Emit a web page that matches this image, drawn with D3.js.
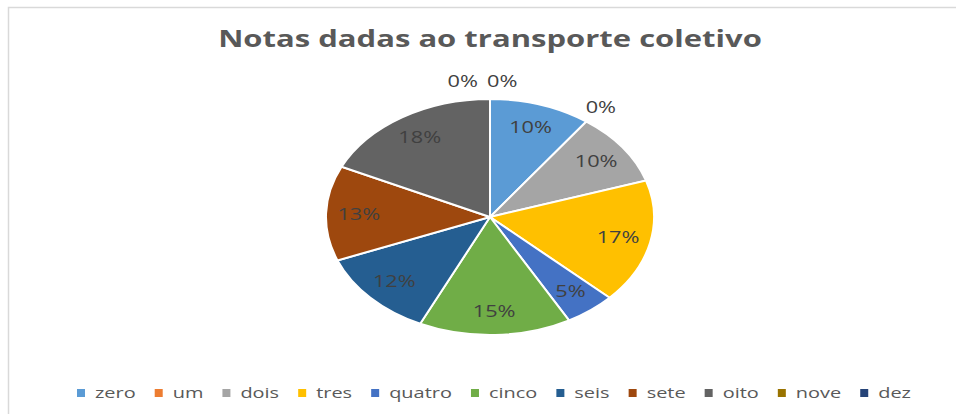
<!DOCTYPE html>
<html>
<head>
<meta charset="utf-8">
<script src="https://cdn.jsdelivr.net/npm/d3@7"></script>
<style>
  html, body { margin: 0; padding: 0; background: #fff; }
  svg { display: block; }
</style>
</head>
<body>
<svg id="chart" width="956" height="414"></svg>
<script>
// ---- data ----
const categories = ["zero", "um", "dois", "tres", "quatro", "cinco", "seis", "sete", "oito", "nove", "dez"];
const values = [10, 0, 10, 17, 5, 15, 12, 13, 18, 0, 0];
const colors = ["#5B9BD5", "#ED7D31", "#A5A5A5", "#FFC000", "#4472C4", "#70AD47", "#255E91", "#9E480E", "#636363", "#997300", "#264478"];
const title = "Notas dadas ao transporte coletivo";

// ---- layout ----
const W = 956, H = 414;
const cx = 490, cy = 217, R = 118, sx = 1.39;
const font = "'Open Sans', 'DejaVu Sans', sans-serif";

const svg = d3.select("#chart");

// border
svg.append("rect")
  .attr("x", 8.5).attr("y", 7.5)
  .attr("width", 1200).attr("height", 600)
  .attr("fill", "none").attr("stroke", "#d9d9d9").attr("stroke-width", 1.5);

// title
const tt = svg.append("text")
  .attr("text-anchor", "middle")
  .attr("font-family", font).attr("font-weight", "bold").attr("font-size", 24)
  .attr("fill", "#595959")
  .text(title);
const titleScale = 544 / tt.node().getComputedTextLength();
tt.attr("transform", `translate(${cx},47) scale(${titleScale},1)`);

const data = categories.map((c, i) => ({ name: c, value: values[i], color: colors[i] }));
const total = d3.sum(values);

const pie = d3.pie().value(d => d.value).sort(null);
const arcs = pie(data);
const arc = d3.arc().innerRadius(0).outerRadius(R);

const gPie = svg.append("g").attr("transform", `translate(${cx},${cy}) scale(${sx},1)`);
gPie.selectAll("path")
  .data(arcs.filter(a => a.data.value > 0))
  .join("path")
  .attr("d", arc)
  .attr("fill", d => d.data.color)
  .attr("stroke", "#fff")
  .attr("stroke-width", 2)
  .attr("vector-effect", "non-scaling-stroke");

// labels
const inner = d3.arc().innerRadius(R * 0.8).outerRadius(R * 0.8);
const gLab = svg.append("g");
let topCount = 0;
arcs.forEach(a => {
  const pct = Math.round(a.data.value / total * 100) + "%";
  let x, y, anchor = "middle";
  if (a.data.value > 0) {
    const c = inner.centroid(a);
    x = cx + c[0] * sx; y = cy + c[1];
  } else {
    const ang = a.startAngle;
    const r = R * 1.15;
    x = cx + Math.sin(ang) * r * sx; y = cy - Math.cos(ang) * r;
    if (Math.abs(Math.sin(ang)) < 0.01 && ang > Math.PI) {
      // stacked zero labels at the top: alternate left / right
      if (topCount === 0) { anchor = "end"; x = cx - 12; }
      else { anchor = "start"; x = cx - 3; }
      topCount++;
    }
  }
  gLab.append("text")
    .attr("transform", `translate(${x},${y}) scale(1.36,1)`)
    .attr("text-anchor", anchor)
    .attr("dy", "0.36em")
    .attr("font-family", font).attr("font-size", 16)
    .attr("fill", "#404040")
    .text(pct);
});

// legend
const legY = 393;
const legScale = 1.33;
const gLeg = svg.append("g");
const items = data.map(d => {
  const g = gLeg.append("g");
  g.append("rect").attr("width", 8).attr("height", 8).attr("y", -4).attr("fill", d.color);
  const t = g.append("text")
    .attr("font-family", font).attr("font-size", 15)
    .attr("fill", "#595959")
    .attr("dy", "0.35em")
    .text(d.name);
  const w = t.node().getComputedTextLength() * legScale;
  t.attr("transform", `translate(18,0) scale(${legScale},1)`);
  return { g, w: 18 + w };
});
const gap = 19;
const totalW = d3.sum(items, d => d.w) + gap * (items.length - 1);
let lx = 494 - totalW / 2;
items.forEach(it => {
  it.g.attr("transform", `translate(${lx},${legY})`);
  lx += it.w + gap;
});
</script>
</body>
</html>
